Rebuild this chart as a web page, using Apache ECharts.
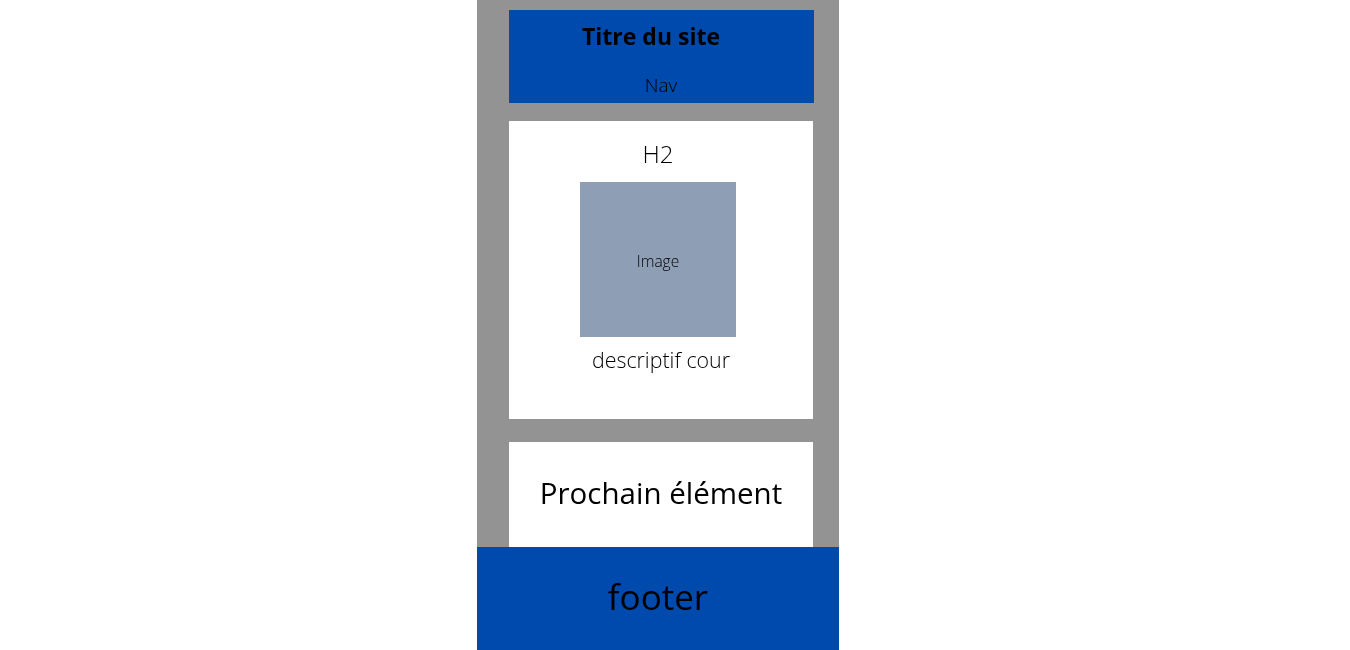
<!DOCTYPE html>
<html>
<head>
<meta charset="utf-8">
<script src="https://cdn.jsdelivr.net/npm/echarts@6/dist/echarts.min.js"></script>
<style>
html, body { margin: 0; padding: 0; background: #fff; }
#chart { width: 1350px; height: 650px; }
</style>
</head>
<body>
<div id="chart"></div>
<script>
// blocs de la maquette : [x0, y0, x1, y1] en px
var boxNames = ['fond', 'header', 'bloc1', 'image', 'bloc2', 'footer'];
var boxExtents = [
    [477, 0, 839, 650],
    [509, 10, 814, 103],
    [509, 121, 813, 419],
    [580, 182, 736, 337],
    [509, 442, 813, 547],
    [477, 547, 839, 650]
];
var boxColors = ['#939393', '#004aad', '#ffffff', '#8e9fb5', '#ffffff', '#004aad'];

// textes : libellé, position x, y
var labelTexts = ['Titre du site', 'Nav', 'H2', 'Image', 'descriptif cour', 'Prochain élément', 'footer'];
var labelPos = [[651, 38], [661, 87], [658, 156], [658, 263], [661, 362], [661, 496], [658, 600]];
var labelSizes = [23, 19, 24, 15.5, 21.4, 29.5, 35];
var labelWeights = ['bold', 300, 300, 300, 300, 'normal', 'normal'];

var chartDom = document.getElementById('chart');
var myChart = echarts.init(chartDom);
var option;

var boxData = boxExtents.map(function (b, i) {
    return { name: boxNames[i], value: b };
});
var textData = labelPos.map(function (p, i) {
    return { name: labelTexts[i], value: [p[0], p[1], i] };
});

option = {
    animation: false,
    grid: { left: 0, right: 0, top: 0, bottom: 0 },
    xAxis: { type: 'value', min: 0, max: 1350, show: false },
    yAxis: { type: 'value', min: 0, max: 650, inverse: true, show: false },
    series: [
        {
            type: 'custom',
            data: boxData,
            renderItem: function (params, api) {
                var p0 = api.coord([api.value(0), api.value(1)]);
                var p1 = api.coord([api.value(2), api.value(3)]);
                return {
                    type: 'rect',
                    shape: { x: p0[0], y: p0[1], width: p1[0] - p0[0], height: p1[1] - p0[1] },
                    style: { fill: boxColors[params.dataIndex] }
                };
            }
        },
        {
            type: 'custom',
            data: textData,
            renderItem: function (params, api) {
                var p = api.coord([api.value(0), api.value(1)]);
                var i = params.dataIndex;
                return {
                    type: 'text',
                    x: p[0],
                    y: p[1],
                    style: {
                        text: labelTexts[i],
                        fontFamily: 'Open Sans',
                        fontSize: labelSizes[i],
                        fontWeight: labelWeights[i],
                        fill: '#000',
                        align: 'center',
                        verticalAlign: 'middle'
                    }
                };
            }
        }
    ]
};

option && myChart.setOption(option);
</script>
</body>
</html>
